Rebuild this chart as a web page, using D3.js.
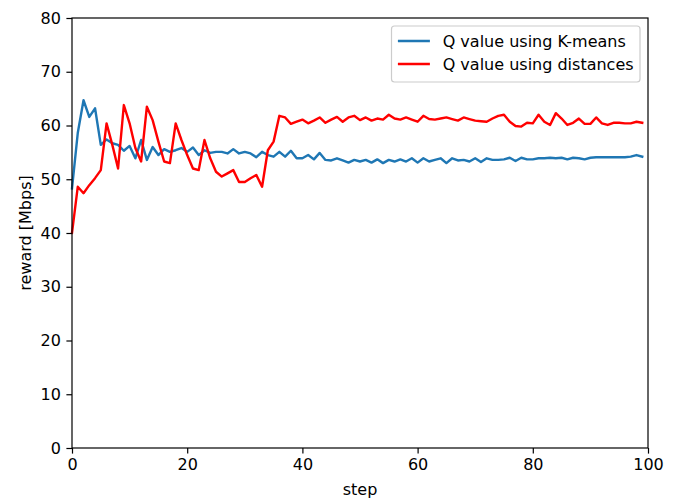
<!DOCTYPE html>
<head>
<meta charset="utf-8">
<style>
body { margin: 0; background: #fff; }
text { font-family: "DejaVu Sans", sans-serif; fill: #000; }
.axis path, .axis line { stroke: #000; stroke-width: 1.2px; }
.axis text { font-size: 16px; }
path.line { fill: none; stroke-width: 2.4px; stroke-linejoin: round; stroke-linecap: square; }
</style>
</head>
<body>
<script src="https://cdn.jsdelivr.net/npm/d3@7/dist/d3.min.js"></script>
<script>

// steps 0..99
var kmeans = [
  48.3, 58.6, 64.7, 61.6, 63.2, 56.4, 57.4, 56.7, 56.4, 55.3,
  56.2, 53.9, 57.3, 53.6, 56.0, 54.5, 55.6, 55.1, 55.4, 55.8,
  55.1, 55.9, 54.5, 55.4, 54.9, 55.1, 55.1, 54.8, 55.6, 54.8,
  55.1, 54.8, 54.1, 55.1, 54.5, 54.2, 55.1, 54.2, 55.3, 53.9,
  53.9, 54.5, 53.7, 54.9, 53.6, 53.5, 53.9, 53.5, 53.1, 53.6,
  53.3, 53.6, 53.1, 53.7, 53.0, 53.6, 53.3, 53.7, 53.3, 53.9,
  53.1, 53.9, 53.3, 53.6, 53.9, 53.0, 53.9, 53.5, 53.6, 53.3,
  53.9, 53.2, 53.9, 53.6, 53.6, 53.7, 54.0, 53.4, 54.0, 53.7,
  53.7, 53.9, 53.9, 54.0, 53.9, 54.0, 53.7, 54.0, 53.9, 53.7,
  54.0, 54.1, 54.1, 54.1, 54.1, 54.1, 54.1, 54.2, 54.5, 54.2
];

var distances = [
  40.0, 48.6, 47.4, 48.9, 50.2, 51.7, 60.4, 56.4, 52.0, 63.8,
  60.4, 55.8, 53.3, 63.5, 61.0, 57.0, 53.3, 53.0, 60.4, 57.3,
  54.5, 52.0, 51.7, 57.3, 53.9, 51.4, 50.5, 51.1, 51.7, 49.5,
  49.5, 50.2, 50.8, 48.6, 55.4, 57.0, 61.8, 61.5, 60.3, 60.7,
  61.1, 60.4, 60.9, 61.5, 60.5, 61.1, 61.6, 60.7, 61.5, 61.8,
  61.0, 61.5, 60.9, 61.3, 61.1, 62.0, 61.3, 61.1, 61.5, 61.1,
  60.7, 61.8, 61.2, 61.1, 61.3, 61.5, 61.2, 60.9, 61.5, 61.2,
  60.9, 60.8, 60.7, 61.3, 61.8, 62.0, 60.7, 59.9, 59.8, 60.5,
  60.4, 62.0, 60.7, 60.1, 62.3, 61.3, 60.1, 60.5, 61.3, 60.3,
  60.3, 61.5, 60.4, 60.1, 60.5, 60.5, 60.4, 60.4, 60.7, 60.5
];

var seriesNames = ["Q value using K-means", "Q value using distances"];
var seriesColors = ["#1f77b4", "red"];

var xTicks = [0, 20, 40, 60, 80, 100];
var yTicks = [0, 10, 20, 30, 40, 50, 60, 70, 80];

var width = 680, height = 501;
var plotLeft = 72, plotRight = 648, plotTop = 18, plotBottom = 448;
var fs = 16;

var svg = d3.select("body").append("svg")
    .attr("width", width)
    .attr("height", height);

var x = d3.scaleLinear().domain([0, 100]).range([plotLeft, plotRight]);
var y = d3.scaleLinear().domain([0, 80]).range([plotBottom, plotTop]);

// lines
var line = d3.line()
    .x(function(d, i) { return x(i); })
    .y(function(d) { return y(d); });

[kmeans, distances].forEach(function(data, k) {
  svg.append("path")
      .datum(data)
      .attr("class", "line")
      .attr("d", line)
      .style("stroke", seriesColors[k]);
});

// axes
svg.append("g")
    .attr("class", "axis")
    .attr("transform", "translate(0," + plotBottom + ")")
    .call(d3.axisBottom(x).tickValues(xTicks).tickSize(5.6).tickPadding(5).tickSizeOuter(0));

svg.append("g")
    .attr("class", "axis")
    .attr("transform", "translate(" + plotLeft + ",0)")
    .call(d3.axisLeft(y).tickValues(yTicks).tickSize(5.6).tickPadding(5.6).tickSizeOuter(0));

svg.selectAll(".axis .domain").remove();

// frame
svg.append("rect")
    .attr("x", plotLeft)
    .attr("y", plotTop)
    .attr("width", plotRight - plotLeft)
    .attr("height", plotBottom - plotTop)
    .style("fill", "none")
    .style("stroke", "#000")
    .style("stroke-width", 1.2);

// axis labels
svg.append("text")
    .attr("x", (plotLeft + plotRight) / 2)
    .attr("y", 495)
    .attr("text-anchor", "middle")
    .style("font-size", fs + "px")
    .text("step");

svg.append("text")
    .attr("transform", "translate(31," + (plotTop + plotBottom) / 2 + ") rotate(-90)")
    .attr("text-anchor", "middle")
    .style("font-size", fs + "px")
    .text("reward [Mbps]");

// legend
var legend = svg.append("g");
var box = legend.append("rect")
    .attr("rx", 3)
    .style("fill", "#fff")
    .style("fill-opacity", 0.8)
    .style("stroke", "#ccc")
    .style("stroke-width", 1.2);

var boxTop = plotTop + 0.5 * fs;
var maxW = 0;
var labels = seriesNames.map(function(name, k) {
  var cy = boxTop + 15 + k * 23;
  var t = legend.append("text")
      .attr("y", cy)
      .attr("dy", "0.35em")
      .style("font-size", fs + "px")
      .text(name);
  maxW = Math.max(maxW, t.node().getComputedTextLength());
  return {t: t, cy: cy, k: k};
});

var boxRight = plotRight - 0.5 * fs;
var boxW = 0.4 * fs + 2 * fs + 0.8 * fs + maxW + 0.4 * fs;
var boxLeft = boxRight - boxW;
box.attr("x", boxLeft).attr("y", boxTop).attr("width", boxW).attr("height", 56);

labels.forEach(function(l) {
  var hx = boxLeft + 0.4 * fs;
  legend.append("line")
      .attr("x1", hx)
      .attr("x2", hx + 2 * fs)
      .attr("y1", l.cy)
      .attr("y2", l.cy)
      .style("stroke", seriesColors[l.k])
      .style("stroke-width", 2.4);
  l.t.attr("x", hx + 2.8 * fs);
});

</script>
</body>
</html>
